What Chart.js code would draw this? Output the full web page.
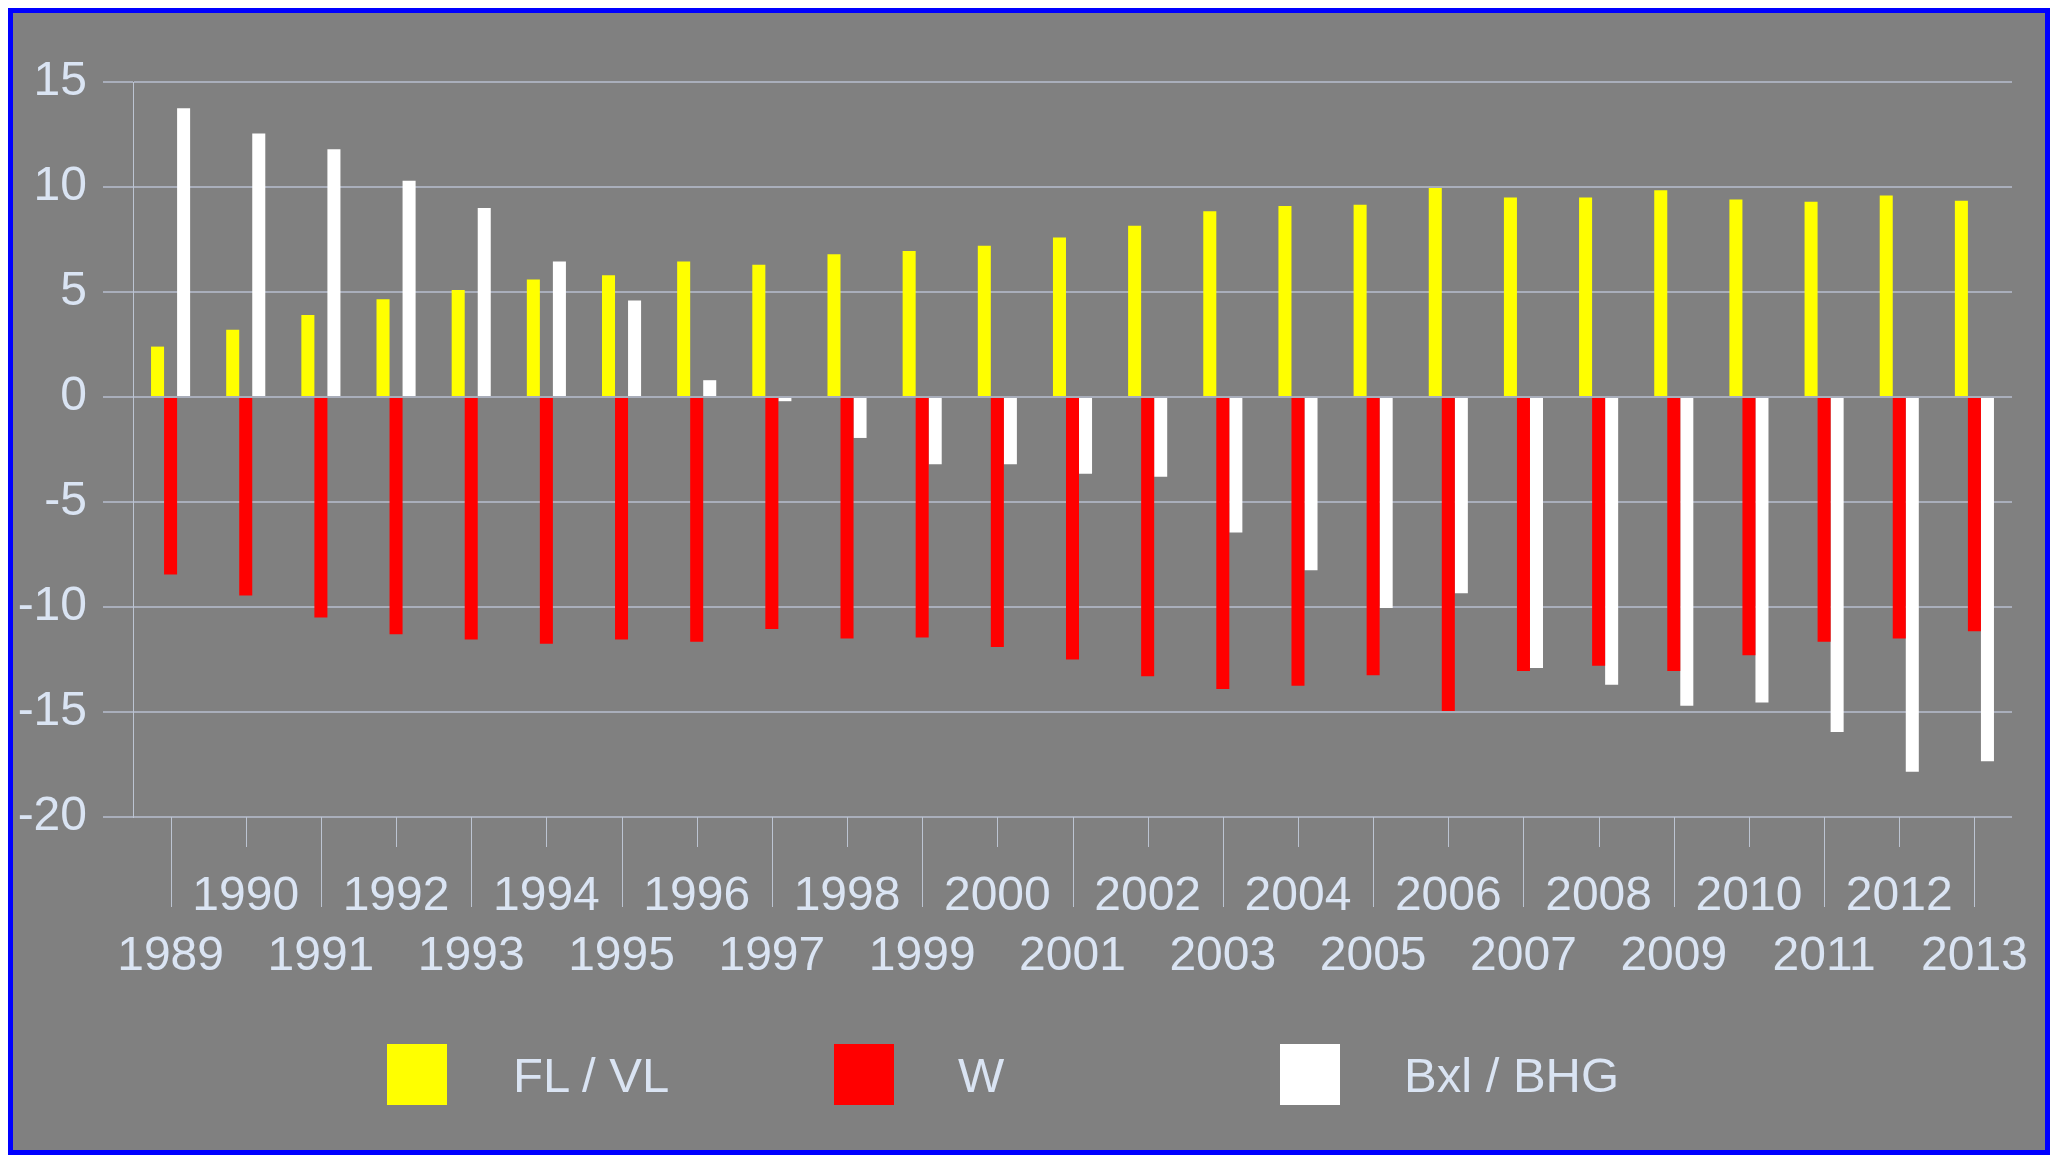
<!DOCTYPE html>
<html>
<head>
<meta charset="utf-8">
<script src="https://cdn.jsdelivr.net/npm/chart.js@4.4.1/dist/chart.umd.min.js"></script>
<style>
  body { margin: 0; background: #ffffff; }
  #frame {
    position: absolute; left: 8px; top: 8px;
    width: 2042px; height: 1147px;
    box-sizing: border-box;
    border: 5px solid #0000ff;
    background: #808080;
  }
  #ivChart { position: absolute; left: 0; top: 0; }
  .swatch { position: absolute; top: 1031px; width: 60px; height: 61px; }
  .legendText {
    position: absolute; top: 1032px; height: 60px; line-height: 60px;
    font-family: "Liberation Sans", Arial, sans-serif; font-size: 49px;
    color: #dae4f3; white-space: nowrap;
  }
</style>
</head>
<body>
<div id="frame">
  <canvas id="ivChart" width="2032" height="1137"></canvas>
  <div class="swatch" style="left:374px; background:#ffff00"></div>
  <div class="legendText" style="left:500px">FL / VL</div>
  <div class="swatch" style="left:821px; background:#ff0000"></div>
  <div class="legendText" style="left:945px">W</div>
  <div class="swatch" style="left:1267px; background:#ffffff"></div>
  <div class="legendText" style="left:1391px">Bxl / BHG</div>
</div>
<script>
const years = ['1989', '1990', '1991', '1992', '1993', '1994', '1995', '1996', '1997', '1998', '1999', '2000', '2001',
  '2002', '2003', '2004', '2005', '2006', '2007', '2008', '2009', '2010', '2011', '2012', '2013'];

const flvl = [2.4, 3.2, 3.9, 4.65, 5.1, 5.6, 5.8, 6.45, 6.3, 6.8, 6.95, 7.2, 7.6,
  8.15, 8.85, 9.1, 9.15, 9.95, 9.5, 9.5, 9.85, 9.4, 9.3, 9.6, 9.35];
const wal = [-8.45, -9.45, -10.5, -11.3, -11.55, -11.75, -11.55, -11.65, -11.05, -11.5, -11.45, -11.9, -12.5,
  -13.3, -13.9, -13.75, -13.25, -14.95, -13.05, -12.8, -13.05, -12.3, -11.65, -11.5, -11.15];
const bxl = [13.75, 12.55, 11.8, 10.3, 9.0, 6.45, 4.6, 0.8, -0.2, -1.95, -3.2, -3.2, -3.65,
  -3.8, -6.45, -8.25, -10.05, -9.35, -12.9, -13.7, -14.7, -14.55, -15.95, -17.85, -17.35];

const yMin = -20, yMax = 15, yStep = 5;

const textColor = '#dae4f3';
const gridColor = '#a9aebb';
const axisColor = '#bcc4d2';
const fontFamily = '"Liberation Sans", Arial, sans-serif';

// long / short tick marks below the category axis
const categoryTicks = {
  id: 'categoryTicks',
  afterDraw(chart) {
    const xs = chart.scales.x;
    const top = chart.chartArea.bottom;
    const ctx = chart.ctx;
    ctx.save();
    ctx.strokeStyle = axisColor;
    ctx.lineWidth = 1;
    xs.ticks.forEach((t, i) => {
      const px = Math.round(xs.getPixelForTick(i)) + 0.5;
      const len = i % 2 === 0 ? 90 : 30;
      ctx.beginPath();
      ctx.moveTo(px, top);
      ctx.lineTo(px, top + len);
      ctx.stroke();
    });
    ctx.restore();
  }
};

const ctx = document.getElementById('ivChart').getContext('2d');

new Chart(ctx, {
  type: 'bar',
  data: {
    labels: years,
    datasets: [
      { label: 'FL / VL', data: flvl, backgroundColor: '#ffff00' },
      { label: 'W', data: wal, backgroundColor: '#ff0000' },
      { label: 'Bxl / BHG', data: bxl, backgroundColor: '#ffffff' }
    ]
  },
  options: {
    responsive: false,
    animation: false,
    datasets: { bar: { categoryPercentage: 0.52, barPercentage: 1.0, borderWidth: 0 } },
    layout: { padding: { top: 69, right: 33, left: 0, bottom: 113 } },
    plugins: {
      legend: { display: false },
      tooltip: { enabled: false }
    },
    scales: {
      x: {
        grid: { display: false, drawTicks: false, tickLength: 0 },
        border: { display: false },
        ticks: {
          autoSkip: false,
          maxRotation: 0,
          padding: 50,
          color: textColor,
          font: { family: fontFamily, size: 48, lineHeight: 1.25 },
          callback: (value, index) => index % 2 === 0 ? ['', years[index]] : years[index]
        },
        afterFit: scale => { scale.height = 220; scale.paddingLeft = 0; scale.paddingRight = 0; }
      },
      y: {
        min: yMin,
        max: yMax,
        grid: { color: gridColor, lineWidth: 2, tickLength: 30 },
        border: { display: true, color: axisColor, width: 1 },
        ticks: {
          stepSize: yStep,
          padding: 16,
          color: textColor,
          font: { family: fontFamily, size: 48 }
        },
        afterFit: scale => { scale.width = 120; scale.paddingTop = 0; scale.paddingBottom = 0; }
      }
    }
  },
  plugins: [categoryTicks]
});
</script>
</body>
</html>
